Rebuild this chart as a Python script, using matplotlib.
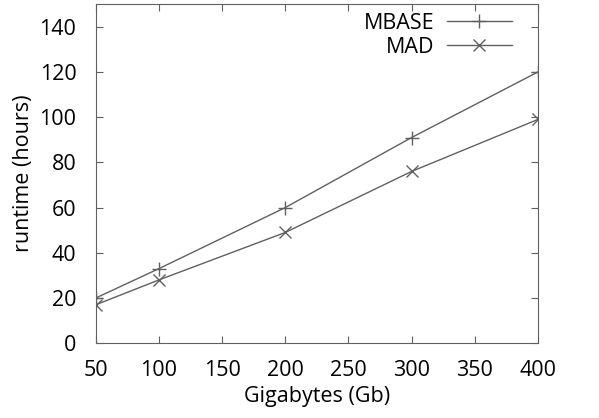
import matplotlib.pyplot as plt

# datos
gigabytes = [50, 100, 200, 300, 400]
mbase = [20, 33, 60, 91, 120]
mad = [17, 28, 49, 76, 99]
xticks = [50, 100, 150, 200, 250, 300, 350, 400]
yticks = [0, 20, 40, 60, 80, 100, 120, 140]

plt.rcParams['font.family'] = ['Open Sans', 'DejaVu Sans']
plt.rcParams['font.size'] = 15.5

fig = plt.figure(figsize=(5.99, 4.18), dpi=100)
ax = fig.add_axes([0.16, 0.179, 0.738, 0.811])

color = "#606060"
ax.plot(gigabytes, mbase, color=color, marker="+", markersize=10, markeredgewidth=1,
        linewidth=1, label="MBASE")
ax.plot(gigabytes, mad, color=color, marker="x", markersize=8, markeredgewidth=1,
        linewidth=1, label="MAD")

ax.set_xlim(50, 400)
ax.set_ylim(0, 150)
ax.set_xticks(xticks)
ax.set_yticks(yticks)
ax.tick_params(direction="in", top=True, right=True, length=5, color=color)
ax.tick_params(axis="x", pad=12)
ax.tick_params(axis="y", pad=14)
for s in ax.spines.values():
    s.set_color(color)

ax.set_xlabel("Gigabytes (Gb)", labelpad=4)
ax.set_ylabel("runtime (hours)", labelpad=4)

ax.legend(loc="upper right", frameon=False, markerfirst=False, handlelength=3.0,
          borderaxespad=0.2, borderpad=0.2, labelspacing=0.15, handletextpad=0.6,
          bbox_to_anchor=(0.96, 1.0))

plt.savefig("out.png", dpi=100)
